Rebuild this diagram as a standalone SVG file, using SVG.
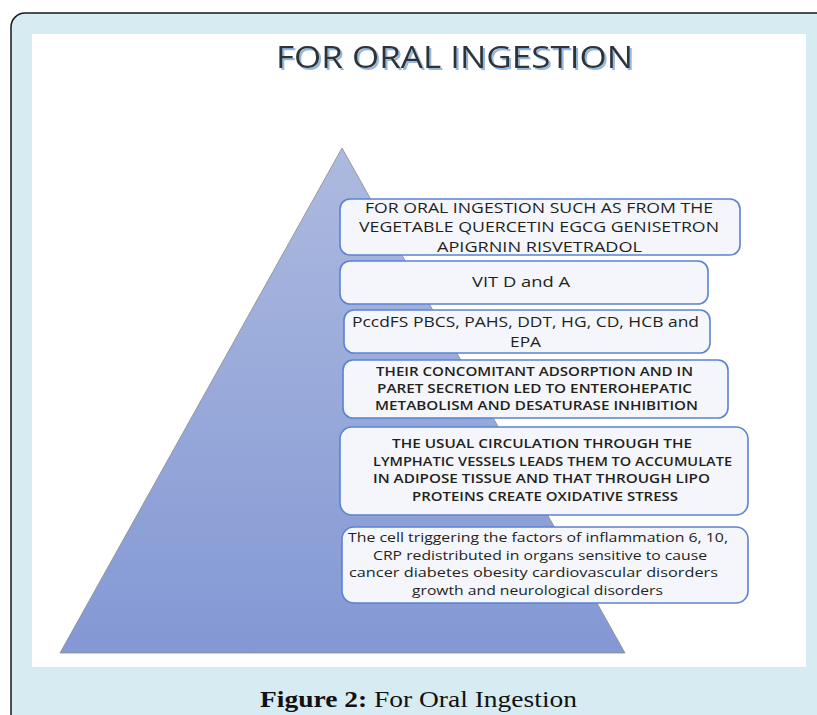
<svg xmlns="http://www.w3.org/2000/svg" width="817" height="715" viewBox="0 0 817 715">
<defs>
<linearGradient id="tri" x1="0" y1="0" x2="0" y2="1">
<stop offset="0" stop-color="#ADBADF"/>
<stop offset="1" stop-color="#8398D4"/>
</linearGradient>
<filter id="shadow" x="-5%" y="-20%" width="110%" height="150%">
<feDropShadow dx="2" dy="2" stdDeviation="0.6" flood-color="#8FB8E2" flood-opacity="1"/>
</filter>
<style>
.box{fill:#F4F6FB;stroke:#5A82D4;stroke-width:1.6}
.t{font-family:"Open Sans","Liberation Sans",sans-serif;fill:#231f1c;text-anchor:start}
.s16{font-size:15px}
.s14{font-size:13px;font-weight:600}
.s15{font-size:13.5px}
</style>
</defs>
<rect x="0" y="0" width="817" height="715" fill="#ffffff"/>
<rect x="11" y="13" width="830" height="730" rx="14" ry="14" fill="#D7ECF2" stroke="#1a1a1a" stroke-width="1.5"/>
<rect x="32" y="34" width="774" height="633" fill="#ffffff"/>
<g id="title">
<text x="276" y="68" font-family="'Open Sans','Liberation Sans',sans-serif" font-size="31" fill="#333333" filter="url(#shadow)" textLength="357" lengthAdjust="spacingAndGlyphs">FOR ORAL INGESTION</text>
</g>
<g id="pyramid">
<polygon points="342,148 60,653 625,653" fill="url(#tri)" stroke="#8a8a8a" stroke-width="0.8"/>
</g>
<g id="connectors"></g>
<g id="box1">
<rect class="box" x="340" y="199" width="400" height="56" rx="10"/>
<text class="t s16" x="365" y="213" textLength="348" lengthAdjust="spacingAndGlyphs">FOR ORAL INGESTION SUCH AS FROM THE</text>
<text class="t s16" x="359" y="232" textLength="360" lengthAdjust="spacingAndGlyphs">VEGETABLE QUERCETIN EGCG GENISETRON</text>
<text class="t s16" x="437" y="252" textLength="205" lengthAdjust="spacingAndGlyphs">APIGRNIN RISVETRADOL</text>
</g>
<g id="box2">
<rect class="box" x="340" y="261" width="368" height="43" rx="10"/>
<text class="t s16" x="472" y="287" textLength="98" lengthAdjust="spacingAndGlyphs">VIT D and A</text>
</g>
<g id="box3">
<rect class="box" x="344" y="310" width="366" height="43" rx="10"/>
<text class="t s16" x="352" y="327" textLength="347" lengthAdjust="spacingAndGlyphs">PccdFS PBCS, PAHS, DDT, HG, CD, HCB and</text>
<text class="t s16" x="510" y="347" textLength="31" lengthAdjust="spacingAndGlyphs">EPA</text>
</g>
<g id="box4">
<rect class="box" x="343" y="360" width="385" height="58" rx="10"/>
<text class="t s14" x="376" y="376" textLength="317" lengthAdjust="spacingAndGlyphs">THEIR CONCOMITANT ADSORPTION AND IN</text>
<text class="t s14" x="377" y="393" textLength="315" lengthAdjust="spacingAndGlyphs">PARET SECRETION LED TO ENTEROHEPATIC</text>
<text class="t s14" x="375" y="410" textLength="323" lengthAdjust="spacingAndGlyphs">METABOLISM AND DESATURASE INHIBITION</text>
</g>
<g id="box5">
<rect class="box" x="340" y="427" width="408" height="88" rx="12"/>
<text class="t s14" x="392" y="448" textLength="300" lengthAdjust="spacingAndGlyphs">THE USUAL CIRCULATION THROUGH THE</text>
<text class="t s14" x="373" y="466" textLength="359" lengthAdjust="spacingAndGlyphs">LYMPHATIC VESSELS LEADS THEM TO ACCUMULATE</text>
<text class="t s14" x="373" y="483" textLength="337" lengthAdjust="spacingAndGlyphs">IN ADIPOSE TISSUE AND THAT THROUGH LIPO</text>
<text class="t s14" x="412" y="501" textLength="266" lengthAdjust="spacingAndGlyphs">PROTEINS CREATE OXIDATIVE STRESS</text>
</g>
<g id="box6">
<rect class="box" x="342" y="527" width="406" height="76" rx="12"/>
<text class="t s15" x="348" y="542" textLength="380" lengthAdjust="spacingAndGlyphs">The cell triggering the factors of inflammation 6, 10,</text>
<text class="t s15" x="373" y="560" textLength="334" lengthAdjust="spacingAndGlyphs">CRP redistributed in organs sensitive to cause</text>
<text class="t s15" x="349" y="577" textLength="369" lengthAdjust="spacingAndGlyphs">cancer diabetes obesity cardiovascular disorders</text>
<text class="t s15" x="412" y="595" textLength="251" lengthAdjust="spacingAndGlyphs">growth and neurological disorders</text>
</g>
<g id="caption">
<text x="260" y="707" font-family="'Liberation Serif',serif" font-size="24" fill="#111111" textLength="317" lengthAdjust="spacingAndGlyphs"><tspan font-weight="bold">Figure 2:</tspan> For Oral Ingestion</text>
</g>
</svg>
